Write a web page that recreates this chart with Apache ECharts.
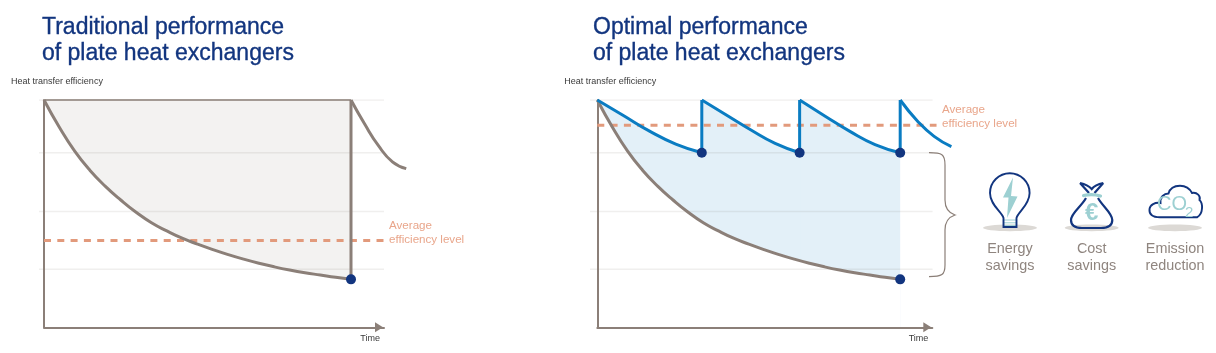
<!DOCTYPE html>
<html><head><meta charset="utf-8">
<style>html,body{margin:0;padding:0;background:#fff}#c{width:1216px;height:353px}</style>
<script src="https://cdn.jsdelivr.net/npm/echarts@6/dist/echarts.min.js"></script>
</head><body><div id="c"></div>
<script>
// ---- data ----
const gridLevels = [100, 76.8, 51, 25.5];
const decayT = [0, 5, 10, 15, 20, 25, 30, 35, 40, 45, 50, 55, 60, 65, 70, 75, 80, 85, 90, 95, 100];
const decayV = [100, 88, 77.5, 69, 62, 56, 50.6, 46, 42.4, 39.2, 36.6, 34.2, 32, 30, 28.2, 26.6, 25.2, 24, 23, 22, 21.1];
const leftRestartT = [100, 104.5, 109, 113.5, 118];
const leftRestartV = [100, 89.3, 79.8, 72.8, 69.8];
const leftAverage = 38.2;
const rightAverage = 88.9;
const cycleT = [
  [0, 8.6, 17.25, 25.9, 34.5],
  [34.5, 42.6, 50.6, 58.7, 66.8],
  [66.8, 75.1, 83.4, 91.7, 100],
  [100, 105.6, 111.2, 116.9]
];
const cycleV = [
  [100, 93.2, 86.3, 80.6, 76.8],
  [100, 93.4, 86.9, 80.9, 76.8],
  [100, 93, 86.2, 80.4, 76.8],
  [100, 90.9, 84, 79.5]
];
const titleLeft = 'Traditional performance\nof plate heat exchangers';
const titleRight = 'Optimal performance\nof plate heat exchangers';
const yName = 'Heat transfer efficiency';
const xName = 'Time';
const avgLabel = 'Average\nefficiency level';
const benefits = [['Energy\nsavings', 1010], ['Cost\nsavings', 1091.7], ['Emission\nreduction', 1175]];

// ---- style ----
const NAVY = '#12357f', GREY = '#8b7f78', BLUE = '#0a7cc2', ORANGE = '#e29a7c',
      ORANGE_T = '#e9a68b', TEAL = '#9dd0d2', FONT = '"Liberation Sans", Arial, sans-serif';
const zip = (a, b) => a.map((x, i) => [x, b[i]]);
const base = { type: 'line', showSymbol: false, silent: true, animation: false };
const SMOOTH = { smooth: 0.5 };

// visible axes occupy [x0, x0 + w]; the data grids share their scale but reach further on both sides
const PANELS = [
  { x0: 44, w: 340, xEnd: 110.75 },
  { x0: 597.3, w: 335, xEnd: 110.6 }
];
const TOP = 100, H = 227.3, PAD_L = 12, PAD_R = 36;
const hidden = { show: false };
const dataGrids = PANELS.map(s => ({ left: s.x0 - PAD_L, top: TOP, width: s.w + PAD_L + PAD_R, height: H, outerBoundsMode: 'none' }));
const axisGrids = PANELS.map(s => ({ left: s.x0, top: TOP, width: s.w, height: H, outerBoundsMode: 'none' }));
const axisLine = { lineStyle: { color: GREY, width: 2 } };
const xAxes = [
  ...PANELS.map((s, i) => {
    const u = s.xEnd / s.w;
    return { type: 'value', gridIndex: i, min: -PAD_L * u, max: s.xEnd + PAD_R * u, show: false, scale: true };
  }),
  ...PANELS.map((s, i) => ({
    type: 'value', gridIndex: i + 2, min: 0, max: s.xEnd, z: 4,
    axisLabel: hidden, axisTick: hidden, splitLine: hidden,
    axisLine: { ...axisLine, onZero: false, symbol: ['none', 'triangle'], symbolSize: [10, 8], symbolOffset: [0, -5] },
    name: xName, nameLocation: 'end', nameGap: -4,
    nameTextStyle: { color: '#3a3a3a', fontFamily: FONT, fontSize: 9, align: 'right', verticalAlign: 'top', padding: [7, 0, 0, 0] }
  }))
];
const yAxes = [
  ...PANELS.map((s, i) => ({ type: 'value', gridIndex: i, min: 0, max: 100, show: false })),
  ...PANELS.map((s, i) => ({
    type: 'value', gridIndex: i + 2, min: 0, max: 100, z: 4,
    axisLabel: hidden, axisTick: hidden, splitLine: hidden,
    axisLine: { ...axisLine, onZero: false },
    name: yName, nameLocation: 'end', nameGap: 18,
    nameTextStyle: { color: '#3a3a3a', fontFamily: FONT, fontSize: 9, align: 'left', verticalAlign: 'middle', padding: [0, 0, 0, -33] }
  }))
];

const series = [];
const add = (i, o) => series.push({ ...base, xAxisIndex: i, yAxisIndex: i, ...o });
const gridX = [[-1.63, 110.75], [-2.4, 110.7]];
[0, 1].forEach(i => gridLevels.forEach(v => add(i, {
  z: 3, data: [[gridX[i][0], v], [gridX[i][1], v]],
  lineStyle: { color: 'rgba(110,100,90,0.10)', width: 1.5 }
})));

// left panel
const last = decayV[decayV.length - 1];
add(0, { z: 1, data: zip(decayT, decayV), ...SMOOTH, lineStyle: { width: 0 }, areaStyle: { color: '#f3f2f1', origin: 'end', opacity: 1 } });
add(0, { z: 5, data: [[0, 100], [100, 100]], lineStyle: { color: '#a39a94', width: 2 } });
add(0, { z: 5, data: [[0, leftAverage], [110.75, leftAverage]], lineStyle: { color: ORANGE, width: 3, type: [7, 6.3] } });
add(0, { z: 6, data: zip(decayT, decayV), ...SMOOTH, lineStyle: { color: GREY, width: 3 } });
add(0, { z: 6, data: [[100, last], [100, 100]], lineStyle: { color: GREY, width: 3 } });
add(0, { z: 6, data: zip(leftRestartT, leftRestartV), ...SMOOTH, lineStyle: { color: GREY, width: 3 } });
series.push({ type: 'scatter', xAxisIndex: 0, yAxisIndex: 0, silent: true, z: 8, symbolSize: 10, itemStyle: { color: NAVY, opacity: 1 }, data: [[100, last]] });

// right panel: light-blue area under the saw-tooth, then white mask under the decay curve
cycleT.slice(0, 3).forEach((t, k) => {
  add(1, { z: 1, data: zip(t, cycleV[k]), ...SMOOTH, lineStyle: { width: 0 }, areaStyle: { color: '#e3f0f8', opacity: 1, origin: 'start' } });
  if (k) add(1, { z: 1, data: [[t[0], 0], [t[0], 100]], lineStyle: { color: '#e3f0f8', width: 1.5 } });
});
add(1, { z: 2, data: zip(decayT, decayV), ...SMOOTH, lineStyle: { width: 0 }, areaStyle: { color: '#ffffff', opacity: 1, origin: 'start' } });
add(1, { z: 5, data: [[0, rightAverage], [112, rightAverage]], lineStyle: { color: ORANGE, width: 3, type: [7, 6.3] } });
add(1, { z: 6, data: zip(decayT, decayV), ...SMOOTH, lineStyle: { color: GREY, width: 3 } });
cycleT.forEach((t, k) => {
  add(1, { z: 7, data: zip(t, cycleV[k]), ...SMOOTH, lineStyle: { color: BLUE, width: 3 } });
  if (k) add(1, { z: 7, data: [[t[0], 100], [t[0], cycleV[k - 1][cycleV[k - 1].length - 1]]], lineStyle: { color: BLUE, width: 3 } });
});
series.push({ type: 'scatter', xAxisIndex: 1, yAxisIndex: 1, silent: true, z: 8, symbolSize: 10, itemStyle: { color: NAVY, opacity: 1 },
  data: cycleT.slice(0, 3).map((t, k) => [t[t.length - 1], cycleV[k][t.length - 1]]).concat([[100, last]]) });

// ---- brace and icons (custom series, pixel space) ----
const p = (d, s) => ({ type: 'path', shape: { pathData: d }, style: { fill: 'none', ...s } });
const iconPaths = [
  p('M929 152.7 C942 152.7 945 154 945 165 L945 200 C945 209 949 213 955 215 C949 217 945 221 945 230 L945 265 C945 275 942 276.7 929 276.7', { stroke: GREY, lineWidth: 1.2 }),
  // bulb
  p('M1013 177.5 L1003 197.5 L1008.5 197.5 L1007 218 L1017.5 196.5 L1011 196 Z', { fill: TEAL }),
  p('M1004 220 L1016 220 M1004 222.8 L1016 222.8 M1004 225.4 L1016 225.4', { stroke: TEAL, lineWidth: 1 }),
  p('M1003.5 227 L1003.5 218 C1002 212 990 205 990 193 A19.8 19.8 0 1 1 1029.6 193 C1029.6 205 1018 212 1016.5 218 L1016.5 227 Z', { stroke: NAVY, lineWidth: 1.9 }),
  // bag
  p('M1086 198 C1081 207 1071 213 1071 220 C1071 226 1076 228 1082 228 L1101 228 C1107 228 1112.3 226 1112.3 220 C1112.3 213 1103 207 1098 198', { stroke: NAVY, lineWidth: 2.2 }),
  p('M1080 183 L1089 193 M1103.3 183 L1094.5 193 M1080 183 C1085 184 1089 186 1091.7 189 C1094 186 1098 184 1103.3 183', { stroke: NAVY, lineWidth: 2.2 }),
  p('M1083.5 195.5 C1088 194.5 1096 194.5 1100.5 196', { stroke: TEAL, lineWidth: 3.2, lineCap: 'round' }),
  // cloud
  p('M1160 217.3 C1152 217.3 1149 214 1149.5 209 C1150 205 1155 202 1160.5 203 C1160 197 1164 193.5 1168.5 193.5 C1170 188 1175 185.7 1180 185.7 C1186 185.7 1190 189 1192 193 C1197 192 1201 196 1199.5 200 C1203 203 1203.5 214 1197 217.3 Z', { stroke: NAVY, lineWidth: 1.9 })
];
series.push({ type: 'custom', coordinateSystem: 'none', silent: true, z: 20, data: [0],
  renderItem: () => ({ type: 'group', children: iconPaths }) });

// ---- text ----
const txt = (x, y, text, s) => ({ type: 'text', x, y, silent: true, z: 21, style: { text, fontFamily: FONT, ...s } });
const shadow = cx => ({ type: 'ellipse', silent: true, z: 0, shape: { cx, cy: 227.8, rx: 27, ry: 3.4 }, style: { fill: '#dcd9d5' } });
const graphic = [
  txt(389, 218.5, avgLabel, { fill: ORANGE_T, fontSize: 11.6, lineHeight: 14 }),
  txt(942, 102.5, avgLabel, { fill: ORANGE_T, fontSize: 11.6, lineHeight: 14 }),
  shadow(1010), shadow(1091.7), shadow(1175),
  txt(1091.7, 213, '€', { fill: TEAL, fontSize: 24, fontWeight: 'bold', align: 'center', verticalAlign: 'middle' }),
  txt(1157, 204.5, 'CO', { fill: TEAL, fontSize: 20, verticalAlign: 'middle' }),
  txt(1185, 212.5, '2', { fill: TEAL, fontSize: 15, verticalAlign: 'middle' }),
  ...benefits.map(b => txt(b[1], 240, b[0], { fill: '#8f857f', fontSize: 14.4, lineHeight: 17.5, align: 'center' }))
];

const titleStyle = { color: NAVY, fontFamily: FONT, fontSize: 23, fontWeight: 'normal', lineHeight: 26, textBorderColor: NAVY, textBorderWidth: 0.35 };
const chart = echarts.init(document.getElementById('c'), null, { renderer: 'canvas' });
chart.setOption({
  animation: false, backgroundColor: '#fff',
  title: [
    { text: titleLeft, left: 42, top: 15, padding: 0, textStyle: titleStyle },
    { text: titleRight, left: 593, top: 15, padding: 0, textStyle: titleStyle }
  ],
  grid: [...dataGrids, ...axisGrids], xAxis: xAxes, yAxis: yAxes, series, graphic
});
</script></body></html>
